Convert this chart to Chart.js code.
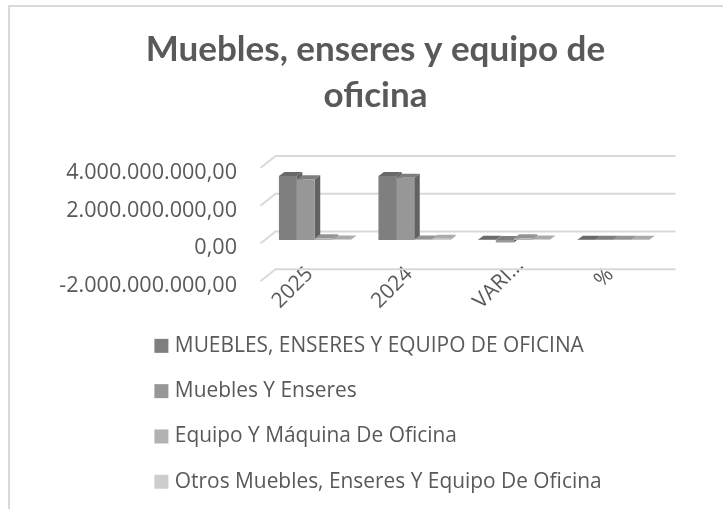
<!DOCTYPE html>
<html>
<head>
<meta charset="utf-8">
<style>
html,body{margin:0;padding:0;background:#fff;overflow:hidden;width:723px;height:509px}
#frame{position:absolute;left:8px;top:5px;width:800px;height:600px;border:2px solid #d9d9d9;box-sizing:border-box}
#wrap{position:absolute;left:0;top:0;width:723px;height:509px}
</style>
<script src="https://cdn.jsdelivr.net/npm/chart.js@4/dist/chart.umd.min.js"></script>
</head>
<body>
<div id="frame"></div>
<div id="wrap"><canvas id="c" width="723" height="509"></canvas></div>
<script>
const categories = ['2025', '2024', 'VARI...', '%'];
const titleLines = ['Muebles, enseres y equipo de', 'oficina'];
const seriesNames = ['MUEBLES, ENSERES Y EQUIPO DE OFICINA', 'Muebles Y Enseres', 'Equipo Y Máquina De Oficina', 'Otros Muebles, Enseres Y Equipo De Oficina'];
const mueblesTotal = [3400000000, 3400000000, 10000000, 10000000];
const mueblesEnseres = [3220000000, 3300000000, -130000000, 10000000];
const equipoMaquina = [90000000, 20000000, 90000000, 10000000];
const otrosMuebles = [30000000, 60000000, 20000000, 10000000];
const frontColors = ['#7f7f7f', '#979797', '#b2b2b2', '#cdcdcd'];
const sideColors = ['#5f5f5f', '#626262', '#858585', '#9a9a9a'];
const topColors = ['#6a6a6a', '#7e7e7e', '#949494', '#ababab'];
const yTicks = [4000000000, 2000000000, 0, -2000000000];

const barDepth = {dx: 5.5, dy: 4};
const wall = {frontDx: -4.5, frontDy: 3.5, backDx: 10.5, backDy: -8.5};
const xLabelOffsets = [[-22, 1], [-22, 1], [-15, -3], [-9, -9]];

function formatEs(v) {
  return new Intl.NumberFormat('es-ES', {minimumFractionDigits: 2, maximumFractionDigits: 2}).format(v).replace(/^(-?)(\d)(\d{3})\./, '$1$2.$3.');
}

const depth3d = {
  id: 'depth3d',
  beforeUpdate(chart) {
    const l = chart.legend;
    if (l && !l._wrapped) {
      const fit = l.fit;
      l.fit = function () {
        this.maxHeight = 1000;
        fit.call(this);
        this.width = 60;
        this.height = 0;
      };
      l._wrapped = true;
    }
  },
  afterLayout(chart) {
    const l = chart.legend;
    l.left = 134; l.right = 715; l.top = 311; l.bottom = 1000; l.width = 581; l.height = 689;
    const sx = chart.scales.x, sy = chart.scales.y;
    sx._computeLabelArea = () => null;
    sx.getLabelItems().forEach((it, i) => {
      it.textOffset = 0;
      it.options.textAlign = 'center';
      it.options.textBaseline = 'middle';
      it.options.translation = [sx.getPixelForTick(i) + xLabelOffsets[i][0], sx.top + 9 + xLabelOffsets[i][1]];
    });
    sy.getLabelItems().forEach((it, i) => {
      it.textOffset = 0;
      it.options.textBaseline = 'middle';
      it.options.translation = [it.options.translation[0], sy.getPixelForTick(i) + 8.2];
    });
  },
  beforeDatasetsDraw(chart) {
    const {ctx, chartArea: a, scales: {y}} = chart;
    ctx.save();
    ctx.strokeStyle = '#d9d9d9';
    ctx.lineWidth = 2;
    y.ticks.forEach(t => {
      const py = y.getPixelForValue(t.value);
      ctx.beginPath();
      ctx.moveTo(a.left + wall.frontDx, py + wall.frontDy);
      ctx.lineTo(a.left + wall.backDx, py + wall.backDy);
      ctx.lineTo(a.right + wall.backDx + 2, py + wall.backDy);
      ctx.stroke();
    });
    chart.data.datasets.forEach((d, i) => {
      chart.getDatasetMeta(i).data.forEach(b => {
        const x0 = b.x - b.width / 2, x1 = b.x + b.width / 2;
        const top = Math.min(b.y, b.base), bot = Math.max(b.y, b.base);
        const {dx, dy} = barDepth;
        ctx.fillStyle = sideColors[i];
        ctx.beginPath();
        ctx.moveTo(x1, top); ctx.lineTo(x1 + dx, top - dy); ctx.lineTo(x1 + dx, bot - dy); ctx.lineTo(x1, bot);
        ctx.closePath(); ctx.fill();
        ctx.fillStyle = topColors[i];
        ctx.beginPath();
        ctx.moveTo(x0, top); ctx.lineTo(x0 + dx, top - dy); ctx.lineTo(x1 + dx, top - dy); ctx.lineTo(x1, top);
        ctx.closePath(); ctx.fill();
      });
    });
    ctx.restore();
  }
};

const seriesValues = [mueblesTotal, mueblesEnseres, equipoMaquina, otrosMuebles];
new Chart(document.getElementById('c'), {
  type: 'bar',
  plugins: [depth3d],
  data: {
    labels: categories,
    datasets: seriesNames.map((n, i) => ({
      label: n,
      data: seriesValues[i],
      backgroundColor: frontColors[i],
      borderWidth: 0,
      categoryPercentage: 0.72,
      barPercentage: 1
    }))
  },
  options: {
    responsive: false,
    animation: false,
    layout: {padding: {left: 28, right: 0, top: 0, bottom: 0}},
    plugins: {
      tooltip: {enabled: false},
      title: {
        display: true,
        text: titleLines,
        color: '#595959',
        font: {family: 'Lato', size: 35, weight: 'bold', lineHeight: 1.314},
        padding: {top: 27, bottom: 45.6}
      },
      legend: {
        position: 'right',
        align: 'start',
        labels: {
          color: '#595959',
          font: {family: 'Open Sans', size: 20.9},
          usePointStyle: true,
          pointStyle: 'rect',
          boxWidth: 6,
          boxHeight: 14,
          padding: 24.4,
          generateLabels(chart) {
            return chart.data.datasets.map((d, i) => ({text: d.label, fillStyle: frontColors[i], lineWidth: 0, strokeStyle: frontColors[i], pointStyle: 'rect', datasetIndex: i, fontColor: '#595959'}));
          }
        }
      }
    },
    scales: {
      x: {
        grid: {display: false},
        border: {display: false},
        ticks: {color: '#595959', font: {family: 'Open Sans', size: 21}, maxRotation: 45, minRotation: 45, autoSkip: false, padding: 0},
        afterFit(s) { s.height = 231.3; }
      },
      y: {
        min: -2000000000,
        max: 4000000000,
        afterBuildTicks(s) { s.ticks = yTicks.map(v => ({value: v})); },
        grid: {display: false},
        border: {display: false},
        ticks: {color: '#595959', font: {family: 'Open Sans', size: 21.6}, padding: 20, callback: v => formatEs(v)},
        afterFit(s) { s.width = 237; }
      }
    }
  }
});
</script>
</body>
</html>
